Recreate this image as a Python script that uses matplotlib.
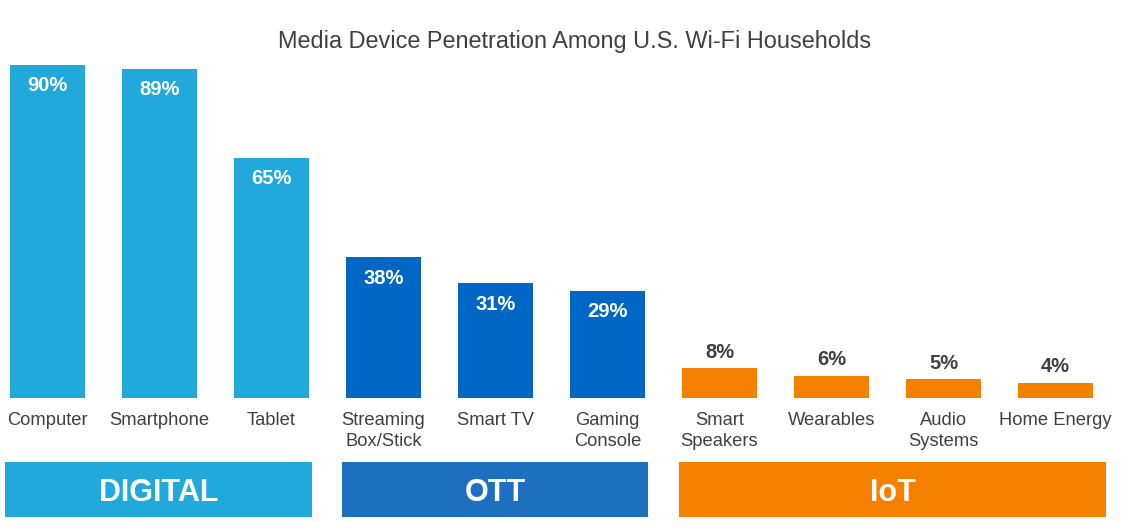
import matplotlib.pyplot as plt
from matplotlib.patches import Rectangle

plt.rcParams['font.family'] = ['Liberation Sans', 'DejaVu Sans']

devices = ['Computer', 'Smartphone', 'Tablet', 'Streaming\nBox/Stick', 'Smart TV',
           'Gaming\nConsole', 'Smart\nSpeakers', 'Wearables', 'Audio\nSystems', 'Home Energy']
shares = [90, 89, 65, 38, 31, 29, 8, 6, 5, 4]
groups = ['DIGITAL', 'OTT', 'IoT']
group_of = [0, 0, 0, 1, 1, 1, 2, 2, 2, 2]

bar_colors = ['#22a9db', '#0068c4', '#f58000']
box_colors = ['#22a9db', '#1e6fbf', '#f58000']
# how far each box reaches past its first / last bar
box_pad = [(0.38, 0.36), (0.37, 0.36), (0.36, 0.45)]
inside = [True, True, True, True, True, True, False, False, False, False]

fig = plt.figure(figsize=(11.28, 5.30), dpi=100)
ax = fig.add_axes([0, 0, 1, 1])
ax.set_xlim(-0.424, 9.647)
ax.set_ylim(-35.7, 107.6)
ax.axis('off')

x = list(range(len(devices)))
ax.bar(x, shares, width=0.67, color=[bar_colors[g] for g in group_of])

for i, v in enumerate(shares):
    if inside[i]:
        ax.text(i, v - 5.6, f'{v}%', ha='center', va='center', color='white',
                fontsize=14.5, fontweight='bold')
    else:
        ax.text(i, v + 4.4, f'{v}%', ha='center', va='center', color='#404040',
                fontsize=14.5, fontweight='bold')
    ax.text(i, -3.9, devices[i], ha='center', va='top', color='#404040',
            fontsize=13.2, linespacing=1.25)

for g, name in enumerate(groups):
    members = [i for i in x if group_of[i] == g]
    left = members[0] - box_pad[g][0]
    right = members[-1] + box_pad[g][1]
    ax.add_patch(Rectangle((left, -32.2), right - left, 14.9, color=box_colors[g], lw=0))
    ax.text((left + right) / 2, -25.6, name, ha='center', va='center', color='white',
            fontsize=22, fontweight='bold')

fig.text(0.509, 0.922, 'Media Device Penetration Among U.S. Wi-Fi Households',
         ha='center', va='center', fontsize=16.9, color='#404040')

fig.savefig('out.png', dpi=100)
